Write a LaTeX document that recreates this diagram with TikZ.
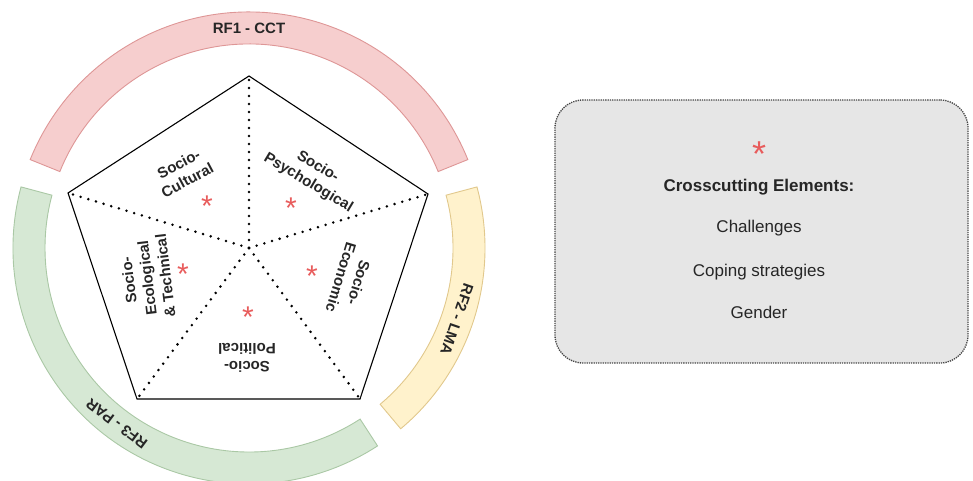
\documentclass[tikz,border=0pt]{standalone}
\usepackage{fontspec}
\setmainfont{Liberation Sans}
\usetikzlibrary{calc}
\definecolor{redfill}{RGB}{246,206,206}
\definecolor{redline}{RGB}{222,150,150}
\definecolor{greenfill}{RGB}{214,232,212}
\definecolor{greenline}{RGB}{170,200,165}
\definecolor{yellowfill}{RGB}{255,242,204}
\definecolor{yellowline}{RGB}{225,200,140}
\definecolor{starred}{RGB}{232,92,92}
\definecolor{boxfill}{RGB}{230,230,230}
\definecolor{boxline}{RGB}{70,70,70}
\begin{document}
\begin{tikzpicture}[x=1pt,y=1pt,
  band/.style={line width=0.9pt},
  bandlabel/.style={font=\fontsize{15}{18}\selectfont\bfseries, text=black!85, inner sep=0},
  seclabel/.style={font=\fontsize{15}{18.5}\selectfont\bfseries, align=center, text=black!85, inner sep=0},
  starmark/.style={font=\fontsize{30}{30}\selectfont, text=starred, anchor=base, inner sep=0, yshift=-17pt},
  bigstar/.style={font=\fontsize{36}{36}\selectfont, text=starred, anchor=base, inner sep=0, yshift=-20.5pt},
  boxtext/.style={font=\fontsize{17}{20}\selectfont, text=black!85, inner sep=0},
  spoke/.style={line width=2.8pt, line cap=round, dash pattern=on 0pt off 8pt},
  pentedge/.style={line width=1.1pt, line join=miter}
]
\useasboundingbox (0,0) rectangle (973,481);
\coordinate (O) at (249,233);
\coordinate (T) at (249,405);
\coordinate (UR) at (428,287);
\coordinate (LR) at (360,82);
\coordinate (LL) at (137,82);
\coordinate (UL) at (68,288);

% bands
\draw[band, fill=redfill, draw=redline] ($(O)+(22:236)$) arc[start angle=22, end angle=158, radius=236] -- ($(O)+(158:204)$) arc[start angle=158, end angle=22, radius=204] -- cycle;
\draw[band, fill=yellowfill, draw=yellowline] ($(O)+(-50:236)$) arc[start angle=-50, end angle=15, radius=236] -- ($(O)+(15:204)$) arc[start angle=15, end angle=-50, radius=204] -- cycle;
\draw[band, fill=greenfill, draw=greenline] ($(O)+(165:236)$) arc[start angle=165, end angle=303, radius=236] -- ($(O)+(303:204)$) arc[start angle=303, end angle=165, radius=204] -- cycle;

\node[bandlabel] (rf1) at ($(O)+(90:220)$) {RF1 - CCT};
\node[bandlabel, rotate=-109] (rf2) at ($(O)+(-19:220)$) {RF2 - LMA};
\node[bandlabel, rotate=143] (rf3) at ($(O)+(233:220)$) {RF3 - PAR};

% spokes
\draw[spoke] (O) -- (T);
\draw[spoke] (O) -- (UR);
\draw[spoke] (O) -- (LR);
\draw[spoke] (O) -- (LL);
\draw[spoke] (O) -- (UL);
% pentagon
\draw[pentedge] (T) -- (UR) -- (LR) -- (LL) -- (UL) -- cycle;

% section labels
\node[seclabel, rotate=28] (cult) at (183,309) {Socio-\\Cultural};
\node[seclabel, rotate=-31] (psych) at (313,306) {Socio-\\Psychological};
\node[seclabel, rotate=97] (eco) at (147,203) {Socio-\\Ecological\\\& Technical};
\node[seclabel, rotate=-107] (econ) at (350,201) {Socio-\\Economic};
\node[seclabel, rotate=180] (pol) at (247,123) {Socio-\\Political};

% stars
\node[starmark] (s1) at (207,281) {*};
\node[starmark] (s2) at (291,279) {*};
\node[starmark] (s3) at (183,213) {*};
\node[starmark] (s4) at (312,211) {*};
\node[starmark] (s5) at (248,170) {*};

% legend box
\node[draw=boxline, fill=boxfill, rounded corners=28pt, densely dotted, line width=1.3pt, minimum width=413pt, minimum height=263pt, inner sep=0] (box) at (761.5,249.5) {};
\node[bigstar] (bs) at (759,335) {*};
\node[boxtext, font=\fontsize{17}{20}\selectfont\bfseries] (title) at (759,294) {Crosscutting Elements:};
\node[boxtext] (c1) at (759,253) {Challenges};
\node[boxtext] (c2) at (759,209) {Coping strategies};
\node[boxtext] (c3) at (759,169) {Gender};
\end{tikzpicture}
\end{document}
